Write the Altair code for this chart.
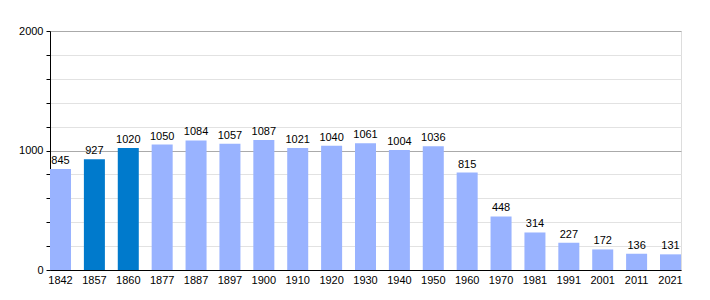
import altair as alt
import pandas as pd

years = ["1842", "1857", "1860", "1877", "1887", "1897", "1900", "1910", "1920", "1930",
         "1940", "1950", "1960", "1970", "1981", "1991", "2001", "2011", "2021"]
population = [845, 927, 1020, 1050, 1084, 1057, 1087, 1021, 1040, 1061,
              1004, 1036, 815, 448, 314, 227, 172, 136, 131]
highlight = ["no", "yes", "yes"] + ["no"] * 16
y_ticks = [0, 200, 400, 600, 800, 1000, 1200, 1400, 1600, 1800, 2000]

df = pd.DataFrame({"year": years, "pop": population, "hl": highlight})

FONT = "Liberation Sans"

base = alt.Chart(df).encode(
    x=alt.X("year:N", sort=None, title=None,
            scale=alt.Scale(paddingInner=0.38, paddingOuter=0),
            axis=alt.Axis(labelAngle=0, ticks=False, domainColor="#000000",
                          labelColor="#000000", labelFontSize=11, labelFont=FONT,
                          labelPadding=4, domainWidth=1)),
    y=alt.Y("pop:Q", title=None,
            scale=alt.Scale(domain=[0, 2000], nice=False),
            axis=alt.Axis(values=y_ticks, format="d",
                          labelExpr="datum.value % 1000 === 0 ? datum.label : ''",
                          labelOverlap=False,
                          grid=True,
                          gridColor={"condition": {"test": "datum.value % 1000 === 0", "value": "#aaaaaa"},
                                     "value": "#e2e2e2"},
                          tickSize=4, tickColor="#000000", domainColor="#000000",
                          labelColor="#000000", labelFontSize=11, labelFont=FONT,
                          labelPadding=3, domainWidth=1)),
)

bars = base.mark_bar().encode(
    color=alt.Color("hl:N", scale=alt.Scale(domain=["no", "yes"], range=["#99B3FF", "#007ACC"]),
                    legend=None),
)

labels = base.mark_text(dy=-8, fontSize=11, font=FONT, color="#000000").encode(
    text=alt.Text("pop:Q", format="d"),
)

chart = (bars + labels).properties(
    width=631, height=239,
    autosize=alt.AutoSizeParams(type="none"),
    padding={"left": 42, "top": 23, "right": 21, "bottom": 22},
).configure_view(stroke=None).configure(background="white")

chart.save("out.html", embed_options={"renderer": "svg", "actions": False})
